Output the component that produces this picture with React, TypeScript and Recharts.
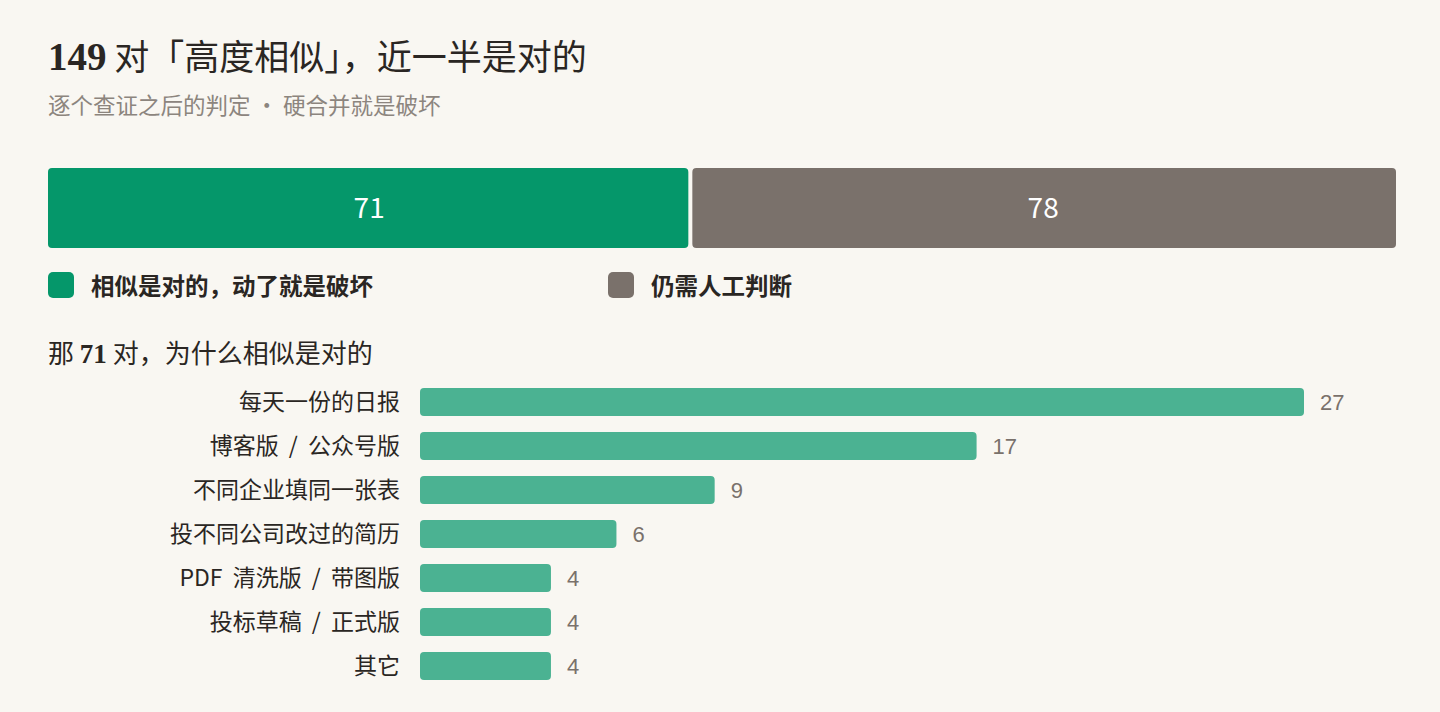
import { Bar, BarChart, LabelList, XAxis, YAxis } from 'recharts';

const splitKeys = ['ok', 'review'];
const splitValues = [71, 78];
const splitNames = ['相似是对的，动了就是破坏', '仍需人工判断'];

const reasonLabels = [
  '每天一份的日报',
  '博客版 / 公众号版',
  '不同企业填同一张表',
  '投不同公司改过的简历',
  'PDF 清洗版 / 带图版',
  '投标草稿 / 正式版',
  '其它',
];
const reasonCounts = [27, 17, 9, 6, 4, 4, 4];

const BG = '#f9f7f2';
const GREEN = '#05976a';
const GRAY = '#7a716b';
const LIGHT_GREEN = '#4bb292';
const INK = '#2a2623';
const CJK = '"Noto Sans CJK SC", "Noto Sans", sans-serif';
const LATIN = '"Liberation Sans", "Noto Sans CJK SC", sans-serif';
const SERIF = '"Liberation Serif", "DejaVu Serif", serif';

const splitRow = [
  Object.fromEntries([['name', 'all'], ...splitKeys.map((k, i) => [k, splitValues[i]])]),
];
const splitTotal = splitValues.reduce((a, b) => a + b, 0);

const reasonRows = reasonLabels.map((label, i) => ({ label, count: reasonCounts[i] }));

// leave a small gap between the two stacked segments
const LeftSeg = (p: any) => (
  <rect x={p.x} y={p.y} width={Math.max(p.width - 2, 0)} height={p.height} rx={4} fill={p.fill} />
);
const RightSeg = (p: any) => (
  <rect x={p.x + 2} y={p.y} width={Math.max(p.width - 2, 0)} height={p.height} rx={4} fill={p.fill} />
);

const ReasonTick = (p: any) => (
  <text
    x={p.x}
    y={p.y}
    dy="0.35em"
    textAnchor="end"
    fill={INK}
    fontSize={23}
    fontFamily={CJK}
    style={{ wordSpacing: '5px' }}
  >
    {p.payload.value}
  </text>
);

export default function App() {
  return (
    <div
      style={{
        position: 'absolute',
        left: 0,
        top: 0,
        width: 1440,
        height: 712,
        background: BG,
        fontFamily: CJK,
        color: INK,
        overflow: 'hidden',
      }}
    >
      <div style={{ position: 'absolute', left: 48, top: 31, fontSize: 35, fontWeight: 400, lineHeight: '47px', whiteSpace: 'nowrap' }}>
        <span style={{ fontFamily: SERIF, fontWeight: 700, fontSize: 39 }}>{splitTotal}</span> 对「高度相似」，近一半是对的
      </div>
      <div style={{ position: 'absolute', left: 48, top: 89, fontSize: 22.5, color: '#8c857e', lineHeight: '30px', whiteSpace: 'nowrap' }}>
        逐个查证之后的判定 · 硬合并就是破坏
      </div>

      <div style={{ position: 'absolute', left: 0, top: 163 }}>
        <BarChart
          width={1440}
          height={90}
          data={splitRow}
          layout="vertical"
          margin={{ top: 0, right: 44, left: 48, bottom: 0 }}
        >
          <XAxis type="number" hide domain={[0, splitTotal]} />
          <YAxis type="category" dataKey="name" hide />
          <Bar dataKey="ok" stackId="a" fill={GREEN} barSize={80} shape={LeftSeg} isAnimationActive={false}>
            <LabelList dataKey="ok" position="center" fill="#ffffff" fontSize={28} fontFamily={CJK} />
          </Bar>
          <Bar dataKey="review" stackId="a" fill={GRAY} barSize={80} shape={RightSeg} isAnimationActive={false}>
            <LabelList dataKey="review" position="center" fill="#ffffff" fontSize={28} fontFamily={CJK} />
          </Bar>
        </BarChart>
      </div>

      <div style={{ position: 'absolute', left: 48, top: 272, display: 'flex', fontSize: 23.5, fontWeight: 700, lineHeight: '26px' }}>
        {splitNames.map((n, i) => (
          <div key={n} style={{ display: 'flex', alignItems: 'center', width: 560, whiteSpace: 'nowrap' }}>
            <span style={{ width: 26, height: 26, borderRadius: 5, background: i === 0 ? GREEN : GRAY, marginRight: 17, flex: 'none' }} />
            {n}
          </div>
        ))}
      </div>

      <div style={{ position: 'absolute', left: 48, top: 334, fontSize: 26, lineHeight: '36px', whiteSpace: 'nowrap' }}>
        那 <span style={{ fontFamily: SERIF, fontWeight: 700, fontSize: 27 }}>{splitValues[0]}</span> 对，为什么相似是对的
      </div>

      <div style={{ position: 'absolute', left: 0, top: 380 }}>
        <BarChart
          width={1440}
          height={308}
          data={reasonRows}
          layout="vertical"
          margin={{ top: 0, right: 136, left: 0, bottom: 0 }}
        >
          <XAxis type="number" hide domain={[0, 27]} />
          <YAxis
            type="category"
            dataKey="label"
            width={420}
            axisLine={false}
            tickLine={false}
            tickSize={0}
            tickMargin={20}
            interval={0}
            tick={<ReasonTick />}
          />
          <Bar dataKey="count" fill={LIGHT_GREEN} barSize={28} radius={4} isAnimationActive={false}>
            <LabelList dataKey="count" position="right" offset={16} fill={GRAY} fontSize={22} fontFamily={LATIN} />
          </Bar>
        </BarChart>
      </div>
    </div>
  );
}
